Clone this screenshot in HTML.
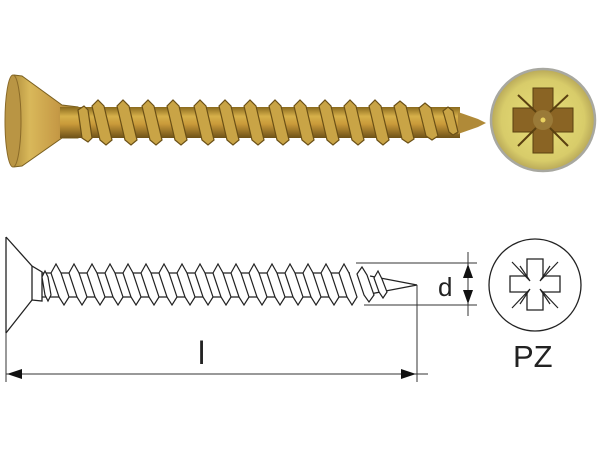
<!DOCTYPE html>
<html><head><meta charset="utf-8"><style>
html,body{margin:0;padding:0;background:#fff;}
svg{display:block;}
</style></head><body>
<svg width="601" height="470" viewBox="0 0 601 470" xmlns="http://www.w3.org/2000/svg">
<defs>
<linearGradient id="sh" x1="0" y1="0" x2="0" y2="1">
<stop offset="0" stop-color="#8a6a1e"/><stop offset="0.3" stop-color="#d6b04a"/><stop offset="0.55" stop-color="#c99a3a"/><stop offset="1" stop-color="#6e5218"/>
</linearGradient>
<linearGradient id="hd" x1="0" y1="0" x2="1" y2="0">
<stop offset="0" stop-color="#a78536"/><stop offset="0.3" stop-color="#d9b85a"/><stop offset="0.7" stop-color="#c69a46"/><stop offset="1" stop-color="#9a7a30"/>
</linearGradient>
<radialGradient id="cg" cx="0.5" cy="0.5" r="0.5">
<stop offset="0" stop-color="#e8df7a"/><stop offset="0.8" stop-color="#d8cc6a"/><stop offset="1" stop-color="#b8a858"/>
</radialGradient>
</defs>

<!-- PHOTO SCREW -->
<path d="M14,75 L22,76 L62,105 L78,107 L78,138 L62,138 L22,166 L14,167 Q4,121 14,75 Z" fill="url(#hd)" stroke="#7a6020" stroke-width="1"/>
<ellipse cx="13" cy="121" rx="8" ry="46" fill="#b99544" stroke="#8a6a28" stroke-width="1"/>
<rect x="60" y="107" width="400" height="31" fill="url(#sh)"/>
<path d="M458,112 L478,119 L486,123 L478,127 L458,134 Z" fill="#b08a38"/>
<g fill="#c9a446" stroke="#6b5016" stroke-width="1.2">
<path d="M92,106 L98,100 L104,106 L112,140 L106,145 L100,140 Z"/>
<path d="M117,106 L123,100 L129,106 L137,140 L131,145 L125,140 Z"/>
<path d="M142,106 L148,100 L154,106 L162,140 L156,145 L150,140 Z"/>
<path d="M167,106 L173,100 L179,106 L187,140 L181,145 L175,140 Z"/>
<path d="M194,106 L200,100 L206,106 L214,140 L208,145 L202,140 Z"/>
<path d="M219,106 L225,100 L231,106 L239,140 L233,145 L227,140 Z"/>
<path d="M244,106 L250,100 L256,106 L264,140 L258,145 L252,140 Z"/>
<path d="M269,106 L275,100 L281,106 L289,140 L283,145 L277,140 Z"/>
<path d="M294,106 L300,100 L306,106 L314,140 L308,145 L302,140 Z"/>
<path d="M319,106 L325,100 L331,106 L339,140 L333,145 L327,140 Z"/>
<path d="M344,106 L350,100 L356,106 L364,140 L358,145 L352,140 Z"/>
<path d="M369,106 L375,100 L381,106 L389,140 L383,145 L377,140 Z"/>
<path d="M394,106 L400,101 L406,106 L414,139 L408,143 L402,139 Z"/>
<path d="M419,108 L425,103 L431,108 L438,136 L432,140 L426,136 Z"/>
<path d="M443,111 L448,107 L453,111 L458,132 L453,135 L449,132 Z"/>
<path d="M78,110 L84,106 L88,110 L92,138 L88,142 L82,138 Z"/>
</g>
<!-- photo head circle -->
<ellipse cx="543" cy="120" rx="52" ry="51" fill="url(#cg)" stroke="#a8a8a0" stroke-width="2.5"/>
<path d="M533,88 L553,88 L553,108 L573,108 L573,132 L553,132 L553,153 L533,153 L533,132 L513,132 L513,108 L533,108 Z" fill="#8a6424" stroke="#5a4010" stroke-width="1"/>
<g stroke="#5a4010" stroke-width="2">
<line x1="518" y1="95" x2="536" y2="112"/><line x1="568" y1="95" x2="550" y2="112"/>
<line x1="518" y1="146" x2="536" y2="128"/><line x1="568" y1="146" x2="550" y2="128"/>
</g>
<circle cx="543" cy="120" r="10" fill="#9a7a38"/>
<circle cx="543" cy="120" r="2.5" fill="#e8d060"/>

<!-- DRAWING -->
<g fill="none" stroke="#222" stroke-width="1.3">
<line x1="6" y1="237" x2="6" y2="333"/>
<path d="M6,237 L32,266 L42,272 L42,301 L32,300 L6,333"/>
<line x1="32" y1="266" x2="32" y2="300"/>
<line x1="42" y1="273" x2="350" y2="273"/>
<line x1="42" y1="297" x2="350" y2="297"/>
<path d="M370,276 L417,285 L370,294"/>
</g>
<g fill="#fff" stroke="#222" stroke-width="1.2">
<path d="M51,273 L56,264 L61,273 L69,297 L64,305 L59,297 Z"/>
<path d="M69,273 L74,264 L79,273 L87,297 L82,305 L77,297 Z"/>
<path d="M87,273 L92,264 L97,273 L105,297 L100,305 L95,297 Z"/>
<path d="M105,273 L110,264 L115,273 L123,297 L118,305 L113,297 Z"/>
<path d="M123,273 L128,264 L133,273 L141,297 L136,305 L131,297 Z"/>
<path d="M141,273 L146,264 L151,273 L159,297 L154,305 L149,297 Z"/>
<path d="M159,273 L164,264 L169,273 L177,297 L172,305 L167,297 Z"/>
<path d="M177,273 L182,264 L187,273 L195,297 L190,305 L185,297 Z"/>
<path d="M195,273 L200,264 L205,273 L213,297 L208,305 L203,297 Z"/>
<path d="M213,273 L218,264 L223,273 L231,297 L226,305 L221,297 Z"/>
<path d="M231,273 L236,264 L241,273 L249,297 L244,305 L239,297 Z"/>
<path d="M249,273 L254,264 L259,273 L267,297 L262,305 L257,297 Z"/>
<path d="M267,273 L272,264 L277,273 L285,297 L280,305 L275,297 Z"/>
<path d="M285,273 L290,264 L295,273 L303,297 L298,305 L293,297 Z"/>
<path d="M303,273 L308,264 L313,273 L321,297 L316,305 L311,297 Z"/>
<path d="M321,273 L326,264 L331,273 L339,297 L334,305 L329,297 Z"/>
<path d="M339,273 L344,264 L349,273 L357,297 L352,305 L347,297 Z"/>
<path d="M357,274 L362,267 L367,275 L374,295 L369,302 L364,295 Z"/>
<path d="M374,278 L378,271 L382,279 L387,292 L383,298 L379,292 Z"/>
<path d="M42,277 L45,271 L48,277 L51,295 L48,301 L45,295 Z"/>
</g>
<!-- dimensions -->
<g stroke="#333" stroke-width="1" fill="none">
<line x1="356" y1="263" x2="477" y2="263"/>
<line x1="364" y1="305" x2="477" y2="305"/>
<line x1="468" y1="252" x2="468" y2="316"/>
<line x1="417" y1="285" x2="417" y2="382"/>
<line x1="6" y1="333" x2="6" y2="382"/>
<line x1="6" y1="374" x2="428" y2="374"/>
</g>
<g fill="#111">
<path d="M468,264 L463,278 L473,278 Z"/>
<path d="M468,304 L463,290 L473,290 Z"/>
<path d="M7,374 L22,369 L22,379 Z"/>
<path d="M416,374 L401,369 L401,379 Z"/>
</g>
<text x="438" y="296" font-family="Liberation Sans, sans-serif" font-size="26" fill="#222">d</text>
<text x="198" y="364" font-family="Liberation Sans, sans-serif" font-size="32" fill="#222">l</text>
<circle cx="535" cy="285" r="46" fill="none" stroke="#222" stroke-width="1.3"/>
<path d="M527,259 L543,259 L543,276 L560,276 L560,292 L543,292 L543,310 L527,310 L527,292 L510,292 L510,276 L527,276 Z" fill="none" stroke="#222" stroke-width="1.3"/>
<g stroke="#222" stroke-width="1.2" fill="none">
<path d="M512,262 L530,281 L520,266"/><path d="M558,262 L540,281 L550,266"/>
<path d="M512,308 L530,289 L520,304"/><path d="M558,308 L540,289 L550,304"/>
</g>
<text x="513" y="367" font-family="Liberation Sans, sans-serif" font-size="31" fill="#222">PZ</text>
</svg>
</body></html>
